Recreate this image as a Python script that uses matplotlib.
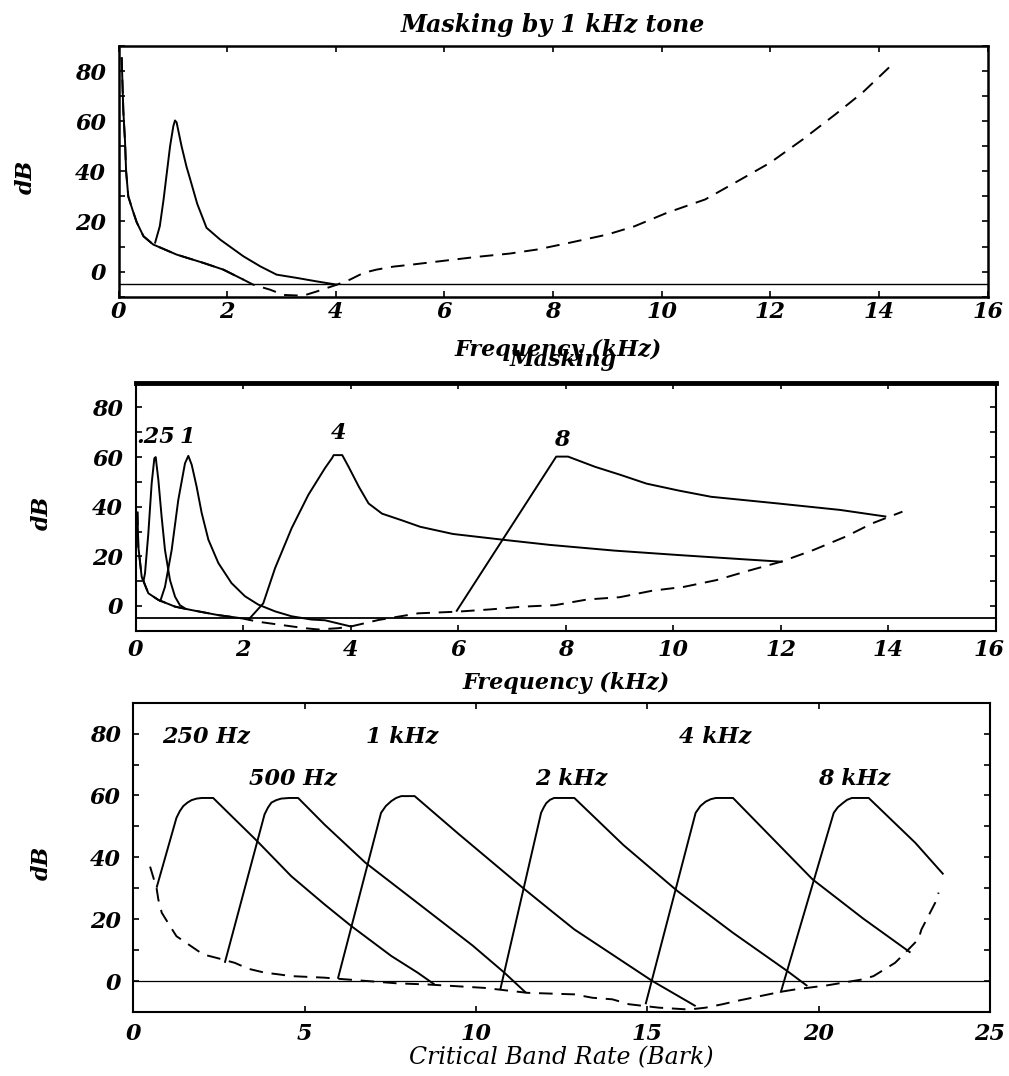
import matplotlib
matplotlib.use('Agg')
import matplotlib.pyplot as plt
import matplotlib.transforms as mtransforms
from matplotlib.ticker import MultipleLocator, FixedLocator

# ---------------- Panel 1: masking by a 1 kHz tone ----------------
p1_quiet_khz = [0.058, 0.089, 0.12, 0.14, 0.18, 0.26, 0.335, 0.46, 0.64, 1.07, 1.56, 1.93,
                2.3, 2.48, 2.79, 3.04, 3.4, 3.65, 4.02, 4.26, 4.51, 4.75, 5.06, 5.4, 5.9,
                6.6, 7.2, 7.7, 8.3, 9.0, 9.5, 10.1, 10.8, 11.4, 12.0, 12.6, 13.2, 13.7, 14.25]
p1_quiet_db = [85.5, 64, 52, 40, 30, 24.5, 19.7, 14.1, 10.8, 6.8, 3.5, 0.8,
               -3.2, -5.2, -7.2, -9.3, -9.6, -7.9, -5.2, -3.2, -0.5, 0.8, 2.0, 2.8, 4.1,
               5.9, 7.2, 8.8, 11.5, 14.8, 18.1, 23.5, 28.8, 36.1, 43.5, 52.8, 62.8, 71.5, 82.8]
p1_mask_khz = [0.67, 0.76, 0.83, 0.89, 0.95, 1.01, 1.04, 1.07, 1.16, 1.25, 1.32, 1.45,
               1.62, 1.87, 2.3, 2.61, 2.91, 3.28, 3.65, 4.02]
p1_mask_db = [11.2, 18.1, 28.8, 39.5, 50.1, 58.1, 60.3, 59.5, 50.1, 42.0, 36.8, 27.0,
              17.5, 12.8, 6.1, 2.1, -1.2, -2.5, -3.9, -5.2]

# ---------------- Panel 2: masking by several tones ----------------
p2_quiet_khz = [0.03, 0.047, 0.109, 0.233, 0.42, 0.73, 1.04, 1.53, 1.97, 2.28, 2.71, 3.15,
                3.39, 3.76, 4.0, 4.51, 5.25, 6.0, 6.6, 7.2, 7.8, 8.4, 9.0, 9.6, 10.2, 10.8,
                11.4, 12.0, 12.6, 13.2, 13.7, 14.26]
p2_quiet_db = [38, 23.9, 11.8, 5.1, 2.4, -0.3, -1.7, -3.7, -5.0, -6.4, -7.7, -9.0,
               -9.5, -9.0, -8.3, -5.7, -3.0, -2.3, -1.4, -0.3, 0.3, 2.6, 3.5, 6.1, 7.7, 10.4,
               14.2, 17.8, 22.5, 27.9, 33.3, 38]
p2_m025_khz = [0.14, 0.171, 0.233, 0.295, 0.345, 0.37, 0.42, 0.48, 0.543, 0.636, 0.73, 0.82, 0.915]
p2_m025_db = [9.7, 13.1, 29.2, 49.4, 59.5, 60.0, 50.7, 36.0, 22.5, 10.4, 3.7, 0.3, -1.0]
p2_m1_khz = [0.45, 0.543, 0.667, 0.79, 0.915, 0.977, 1.04, 1.13, 1.225, 1.35, 1.535, 1.78,
             2.03, 2.28, 2.59, 2.9, 3.27, 3.52, 4.0]
p2_m1_db = [1.6, 7.7, 22.5, 42.7, 57.5, 60.5, 56.9, 48.2, 37.5, 26.7, 17.3, 9.2,
            3.9, 0.5, -2.2, -4.2, -5.5, -5.8, -8.3]
p2_m4_khz = [2.09, 2.37, 2.59, 2.9, 3.21, 3.52, 3.65, 3.68, 3.84, 3.96, 4.15, 4.33, 4.58,
             4.95, 5.29, 5.9, 6.86, 7.7, 8.9, 10.1, 11.3, 12.03]
p2_m4_db = [-5.7, 1.0, 15.2, 31.4, 44.8, 55.6, 59.6, 60.8, 60.8, 56.0, 48.0, 41.3, 37.2,
            34.5, 31.9, 29.0, 26.6, 24.6, 22.3, 20.5, 18.8, 17.8]
p2_m8_khz = [5.96, 7.82, 8.04, 8.54, 9.02, 9.5, 10.1, 10.7, 11.9, 13.1, 13.96]
p2_m8_db = [-2.3, 60.2, 60.2, 56.1, 52.8, 49.3, 46.5, 44.0, 41.4, 38.7, 36.0]
p2_labels = ['.25', '1', '4', '8']
p2_label_khz = [0.37, 0.96, 3.78, 7.92]
p2_label_db = [68, 68, 69.6, 66.9]

# ---------------- Panel 3: critical band rate ----------------
p3_quiet_bark = [0.49, 0.68, 0.73, 0.83, 1.07, 1.26, 2.04, 2.43, 2.96, 3.35, 3.84, 4.22, 4.61,
                 5.0, 5.58, 5.97, 7.72, 8.59, 10.24, 11.5, 12.87, 13.4, 13.98, 14.47, 15.34,
                 16.22, 16.7, 17.19, 17.58, 18.45, 18.93, 19.32, 19.81, 20.24, 21.26, 21.6,
                 22.23, 22.43, 22.91, 23.0, 23.4, 23.5]
p3_quiet_db = [37, 30, 26.4, 22.1, 17.8, 14.5, 8.6, 7.5, 5.9, 4.0, 2.7, 2.2, 1.6,
               1.4, 1.1, 0.75, -0.75, -1.1, -2.2, -3.8, -4.3, -5.4, -5.9, -7.5, -8.6,
               -9.2, -8.6, -7.5, -6.5, -4.5, -3.4, -2.7, -2.0, -1.4, 0.5, 1.6,
               5.9, 8.1, 13.5, 16.7, 25.3, 28.6]
p3_m250_bark = [0.68, 1.26, 1.36, 1.46, 1.58, 1.70, 1.85, 2.0, 2.33, 2.67, 3.61, 4.61, 5.58, 6.36, 7.53, 8.30, 8.79]
p3_m250_db = [30.2, 52.8, 55.0, 56.6, 57.7, 58.5, 59.0, 59.2, 59.2, 55.5, 45.3, 33.9, 24.8, 17.8, 8.1, 2.7, -1.1]
p3_m500_bark = [2.67, 3.83, 3.93, 4.03, 4.17, 4.32, 4.56, 4.81, 5.58, 6.77, 8.5, 9.9, 10.83, 11.46]
p3_m500_db = [5.9, 53.9, 56.1, 57.7, 58.5, 59.0, 59.2, 59.2, 50.6, 38.3, 23.5, 11.5, 2.7, -3.8]
p3_m1k_bark = [5.97, 7.23, 7.37, 7.53, 7.67, 7.82, 8.21, 9.5, 11.36, 12.14, 12.87, 15.15, 16.41]
p3_m1k_db = [0.75, 54.4, 56.6, 58.2, 59.2, 59.8, 59.8, 47.5, 30.2, 23.2, 16.7, 0.0, -8.1]
p3_m2k_bark = [10.71, 11.9, 11.98, 12.05, 12.16, 12.28, 12.87, 14.3, 15.88, 17.5, 19.09, 19.67]
p3_m2k_db = [-2.7, 54.4, 56.2, 57.5, 58.6, 59.2, 59.2, 44.0, 29.1, 15.6, 3.2, -1.6]
p3_m4k_bark = [14.95, 16.41, 16.55, 16.7, 16.85, 17.0, 17.5, 19.82, 21.3, 22.68]
p3_m4k_db = [-7.5, 54.4, 56.6, 58.0, 58.8, 59.2, 59.2, 32.9, 20.2, 9.2]
p3_m8k_bark = [18.89, 20.44, 20.56, 20.7, 20.83, 20.97, 21.46, 22.82, 23.64]
p3_m8k_db = [-3.8, 54.4, 56.2, 57.5, 58.6, 59.2, 59.2, 44.7, 34.5]
p3_labels = ['250 Hz', '500 Hz', '1 kHz', '2 kHz', '4 kHz', '8 kHz']
p3_label_bark = [2.12, 4.65, 7.84, 12.79, 16.97, 21.04]
p3_label_db = [79.2, 65.6, 79.2, 65.6, 79.2, 65.6]

y_ticks = [0, 20, 40, 60, 80]
p1_xticks = [0, 2, 4, 6, 8, 10, 12, 14, 16]
p3_xticks = [0, 5, 10, 15, 20, 25]

# ---------------- style ----------------
FONT = dict(family='DejaVu Serif', weight='bold', style='italic')
plt.rcParams['font.family'] = 'DejaVu Serif'
plt.rcParams['font.weight'] = 'bold'
plt.rcParams['font.style'] = 'italic'
plt.rcParams['lines.solid_capstyle'] = 'butt'

LW = 1.4
DASH = (0, (7, 4.5))
W, H = 1009, 1076

fig = plt.figure(figsize=(W / 100, H / 100), dpi=100)


def px_axes(left, top, right, bottom):
    return fig.add_axes([left / W, 1 - bottom / H, (right - left) / W, (bottom - top) / H])


def style(ax, xlim, xticks, spine_lw=1.5):
    ax.set_xlim(*xlim)
    ax.set_ylim(-10, 90)
    ax.xaxis.set_major_locator(FixedLocator(xticks))
    ax.yaxis.set_major_locator(FixedLocator(y_ticks))
    ax.yaxis.set_minor_locator(MultipleLocator(10))
    ax.set_xticklabels([str(t) for t in xticks])
    ax.set_yticklabels([str(t) for t in y_ticks])
    ax.tick_params(which='both', direction='in', top=True, right=True,
                   length=4, width=1.2, labelsize=16, color='black')
    ax.tick_params(axis='y', pad=9)
    for s in ax.spines.values():
        s.set_linewidth(spine_lw)
    for lab in ax.get_xticklabels() + ax.get_yticklabels():
        lab.set_fontweight('bold')
        lab.set_fontstyle('italic')


# ---- Panel 1 ----
ax1 = px_axes(118.5, 46, 987.7, 296.7)
style(ax1, (0, 16), p1_xticks, spine_lw=1.8)
ax1.tick_params(axis='x', pad=3)
ax1.axhline(-5, color='black', lw=1.0)
ax1.plot(p1_quiet_khz, p1_quiet_db, color='black', lw=LW, linestyle=DASH)
n1 = sum(1 for f in p1_quiet_khz if f <= 2.3)
ax1.plot(p1_quiet_khz[:n1], p1_quiet_db[:n1], color='black', lw=LW)
ax1.plot(p1_mask_khz, p1_mask_db, color='black', lw=LW)

# ---- Panel 2 ----
ax2 = px_axes(135.8, 382.7, 996, 630.7)
style(ax2, (0, 16), p1_xticks)
ax2.spines['top'].set_linewidth(3.5)
ax2.tick_params(axis='x', pad=6)
ax2.axhline(-5, color='black', lw=1.3)
ax2.plot(p2_quiet_khz, p2_quiet_db, color='black', lw=LW, linestyle=DASH)
n2 = sum(1 for f in p2_quiet_khz if f <= 2.0)
ax2.plot(p2_quiet_khz[:n2], p2_quiet_db[:n2], color='black', lw=LW)
for xs, ys in [(p2_m025_khz, p2_m025_db), (p2_m1_khz, p2_m1_db),
               (p2_m4_khz, p2_m4_db), (p2_m8_khz, p2_m8_db)]:
    ax2.plot(xs, ys, color='black', lw=LW)
for t, x, y in zip(p2_labels, p2_label_khz, p2_label_db):
    ax2.text(x, y, t, ha='center', va='center', fontsize=16, **FONT)
# nudge the last tick label so it stays inside the canvas
last = ax2.get_xticklabels()[-1]
last.set_transform(last.get_transform() + mtransforms.ScaledTranslation(-5 / 72, 0, fig.dpi_scale_trans))

# ---- Panel 3 ----
ax3 = px_axes(133.3, 702.7, 990, 1012)
style(ax3, (0, 25), p3_xticks)
ax3.tick_params(axis='x', pad=8)
ax3.axhline(0, color='black', lw=0.9)
ax3.plot(p3_quiet_bark, p3_quiet_db, color='black', lw=LW, linestyle=DASH)
for xs, ys in [(p3_m250_bark, p3_m250_db), (p3_m500_bark, p3_m500_db),
               (p3_m1k_bark, p3_m1k_db), (p3_m2k_bark, p3_m2k_db),
               (p3_m4k_bark, p3_m4k_db), (p3_m8k_bark, p3_m8k_db)]:
    ax3.plot(xs, ys, color='black', lw=LW)
for t, x, y in zip(p3_labels, p3_label_bark, p3_label_db):
    ax3.text(x, y, t, ha='center', va='center', fontsize=16, **FONT)

# ---- titles and axis labels (figure-positioned) ----
fig.text(553 / W, 1 - 25 / H, 'Masking by 1 kHz tone', ha='center', va='center', fontsize=17, **FONT)
fig.text(558 / W, 1 - 350 / H, 'Frequency (kHz)', ha='center', va='center', fontsize=16, **FONT)
fig.text(563 / W, 1 - 360 / H, 'Masking', ha='center', va='center', fontsize=16, **FONT)
fig.text(566 / W, 1 - 683 / H, 'Frequency (kHz)', ha='center', va='center', fontsize=16, **FONT)
fig.text(561 / W, 1 - 1058 / H, 'Critical Band Rate (Bark)', ha='center', va='center',
         fontsize=17, family='DejaVu Serif', style='italic', weight='normal')
fig.text(26 / W, 1 - 177 / H, 'dB', ha='center', va='center', rotation=90, fontsize=16, **FONT)
fig.text(42 / W, 1 - 513 / H, 'dB', ha='center', va='center', rotation=90, fontsize=16, **FONT)
fig.text(42 / W, 1 - 863 / H, 'dB', ha='center', va='center', rotation=90, fontsize=16, **FONT)

fig.savefig('out.png', dpi=100)
